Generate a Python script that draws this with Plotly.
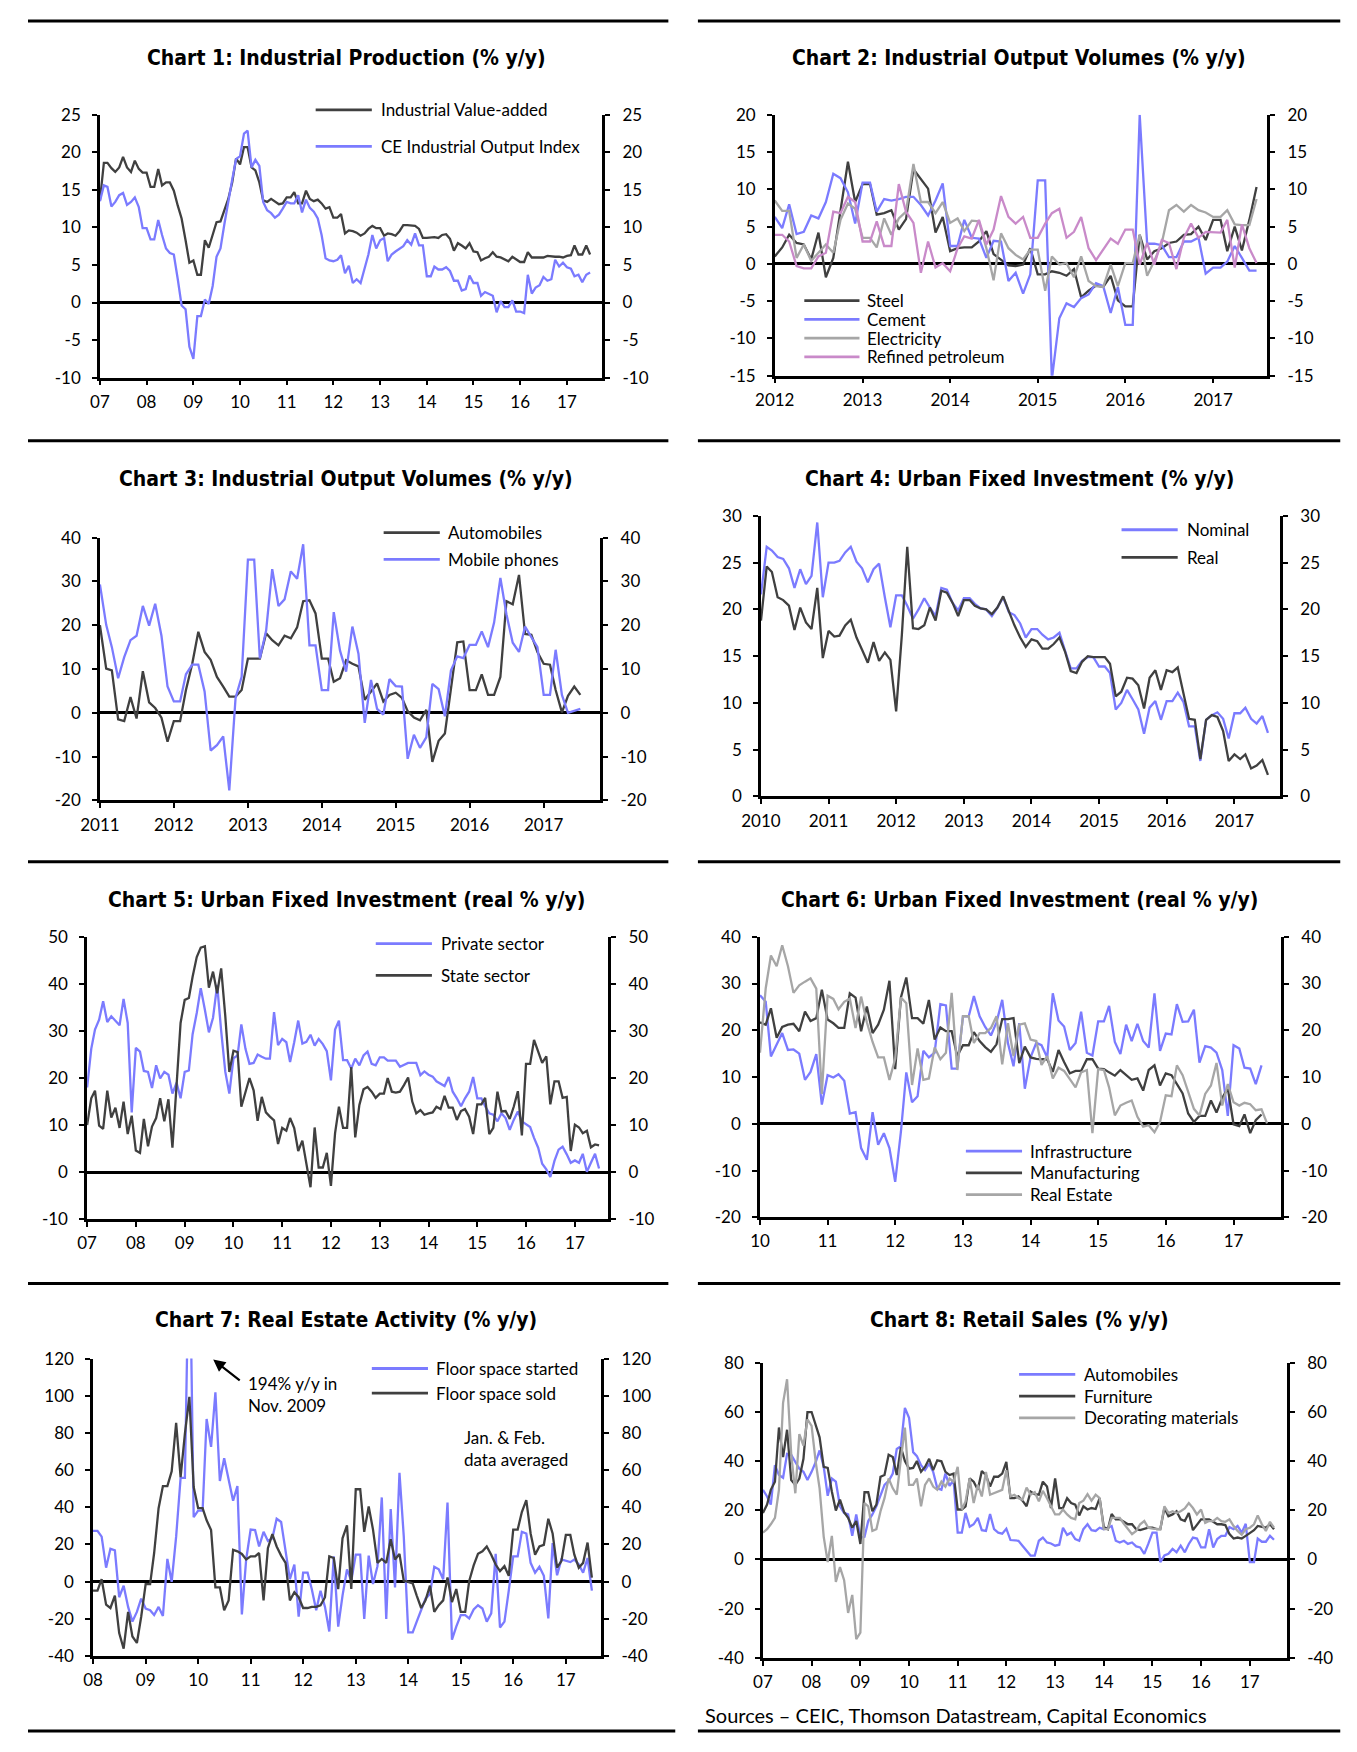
import pandas as pd
import plotly.graph_objects as go

# ---------------- DATA ----------------
# Chart 1: monthly from Jan 2007
c1_start = '2007-01-01'
c1_value_added = [
    13.6, 18.6, 18.6, 17.9, 17.4, 18.0, 19.4, 18.0, 17.4, 18.9, 17.8, 17.3,
    17.3, 15.4, 15.4, 17.8, 15.6, 16.0, 16.0, 14.9, 12.9, 11.2, 8.3, 5.3,
    5.6, 3.7, 3.7, 8.3, 7.3, 9.0, 10.7, 10.8, 12.3, 13.8, 16.0, 19.2,
    18.4, 20.7, 20.7, 18.0, 17.6, 16.0, 13.6, 13.4, 13.8, 13.4, 13.1, 13.2,
    14.0, 14.0, 14.7, 13.2, 13.2, 14.9, 13.8, 13.5, 13.7, 13.2, 12.5, 12.7,
    11.3, 11.3, 11.8, 9.2, 9.6, 9.5, 9.3, 8.9, 9.2, 9.8, 10.2, 9.9,
    9.9, 8.9, 9.2, 9.1, 8.9, 9.5, 10.3, 10.3, 10.2, 10.2, 9.8, 8.6,
    8.6, 8.7, 8.7, 8.6, 9.0, 9.1, 8.5, 6.9, 7.9, 7.6, 7.2, 7.9,
    6.8, 6.7, 5.6, 5.9, 6.1, 6.7, 6.1, 6.0, 5.7, 5.5, 6.1, 5.8,
    5.4, 5.4, 6.7, 6.0, 6.0, 6.1, 6.0, 6.2, 6.1, 6.1, 6.1, 6.0,
    6.2, 6.3, 7.6, 6.4, 6.4, 7.6, 6.4]
c1_ce_index = [
    13.5, 15.6, 15.4, 12.8, 13.4, 14.3, 14.6, 13.0, 13.4, 14.0, 12.7, 9.9,
    9.9, 8.4, 8.4, 11.0, 9.0, 7.2, 6.6, 6.4, 3.1, -0.4, -0.9, -5.9,
    -7.5, -1.8, -1.8, 0.4, -0.2, 2.2, 6.1, 7.2, 10.5, 13.6, 16.4, 19.1,
    19.5, 22.5, 22.9, 18.0, 19.0, 18.2, 13.4, 12.3, 11.9, 11.3, 11.7, 12.5,
    13.4, 13.2, 13.2, 14.3, 12.0, 13.7, 12.6, 12.1, 11.2, 9.0, 5.9, 5.6,
    5.5, 5.7, 6.3, 3.9, 4.9, 2.6, 3.1, 2.6, 4.6, 6.4, 9.0, 7.2,
    8.3, 8.6, 5.5, 6.4, 6.8, 7.2, 7.5, 8.3, 7.7, 9.2, 7.6, 7.6,
    3.5, 3.5, 4.8, 4.4, 4.4, 4.7, 4.2, 2.9, 2.9, 1.6, 1.8, 3.6,
    2.6, 2.6, 0.9, 1.4, 1.2, 0.9, -1.3, 0.2, -0.6, -0.6, 0.3, -1.2,
    -1.2, -1.4, 3.7, 1.2, 2.0, 2.3, 3.4, 2.9, 3.1, 5.7, 4.8, 5.3,
    4.7, 4.5, 3.5, 3.7, 2.7, 3.7, 4.0]

# Chart 2: monthly from Jan 2012
c2_start = '2012-01-01'
c2_steel = [
    1.0, 2.2, 3.9, 2.8, 2.6, 0.6, 4.2, -1.8, 0.8, 7.4, 13.7, 8.3,
    10.7, 10.7, 6.6, 6.8, 7.2, 4.6, 6.0, 12.7, 11.4, 10.1, 4.2, 6.3,
    1.7, 2.1, 2.2, 2.2, 3.0, 4.4, 1.3, 0.6, -0.2, -0.3, -0.1, 2.1,
    -1.4, -1.4, -1.0, -1.2, -1.6, -0.7, -4.5, -3.6, -2.9, -3.1, -1.6, -4.9,
    -5.7, -5.7, 3.9, 0.6, 1.7, 2.1, 2.8, 3.0, 3.9, 4.0, 5.0, 3.2,
    5.9, 5.9, 1.7, 5.0, 1.8, 5.9, 10.3]
c2_cement = [
    6.3, 4.8, 8.0, 4.0, 4.3, 6.5, 6.1, 8.3, 12.1, 11.5, 9.6, 5.4,
    10.9, 10.9, 7.0, 8.7, 8.5, 8.7, 9.0, 9.0, 7.9, 6.5, 8.5, 10.8,
    2.4, 2.4, 5.9, 3.5, 3.4, 0.8, 3.1, 3.0, -2.3, -1.2, -4.0, -1.4,
    11.2, 11.2, -15.5, -7.3, -5.3, -5.8, -4.6, -4.1, -2.6, -3.0, -6.6, -3.1,
    -8.2, -8.2, 20.0, 2.7, 2.7, 2.5, 0.9, 0.9, 3.0, 3.0, 3.5, -1.3,
    -0.5, -0.5, 0.3, 2.4, 0.8, -0.9, -0.9]
c2_electricity = [
    8.5, 7.1, 7.1, 0.8, 2.6, 0.4, 1.5, 2.6, 1.5, 5.9, 8.1, 7.4,
    3.5, 3.5, 2.2, 6.1, 3.9, 6.1, 7.0, 13.4, 8.3, 8.3, 6.8, 8.3,
    5.5, 6.1, 4.4, 5.8, 5.7, 2.1, -2.2, 4.1, 2.1, 1.2, 0.6, 1.9,
    1.9, -3.6, 1.0, -0.1, 0.1, -1.8, 1.0, -2.3, -3.0, -3.1, -0.1, -3.0,
    0.1, 0.1, 3.9, -1.6, 0.4, 2.8, 7.2, 7.9, 7.0, 7.9, 7.2, 6.9,
    6.3, 6.3, 7.2, 5.3, 5.2, 5.2, 8.7]
c2_petroleum = [
    3.9, 3.9, 3.0, -0.3, -0.6, -0.6, 1.0, 1.5, 7.0, 6.8, 9.0, 8.3,
    3.0, 3.0, 5.7, 2.4, 2.4, 10.7, 7.0, 5.5, -1.2, 3.0, -0.5, 0.1,
    -1.0, 2.1, 3.7, 3.4, 5.9, 2.6, 4.6, 9.1, 6.3, 5.4, 6.3, 3.5,
    3.5, 5.4, 6.8, 7.4, 3.5, 4.3, 6.3, 2.1, 0.5, 2.0, 3.4, 2.7,
    4.6, 4.6, -0.1, 2.8, -0.1, 3.2, 2.8, -0.7, 3.5, 5.4, 3.5, 4.3,
    4.2, 4.2, 5.9, -0.5, 5.3, 2.1, 0.1]

# Chart 3: monthly from Jan 2011
c3_start = '2011-01-01'
c3_automobiles = [
    20.0, 10.1, 9.7, -1.5, -1.9, 3.6, -1.3, 9.5, 2.4, 1.1, -1.1, -6.6,
    -1.9, -1.9, 5.2, 11.2, 18.5, 13.9, 12.1, 8.2, 6.0, 3.7, 3.7, 5.2,
    12.4, 12.4, 12.4, 18.2, 16.6, 15.4, 17.6, 17.0, 19.5, 25.5, 25.7, 22.7,
    12.4, 12.4, 7.1, 7.9, 12.0, 11.2, 10.6, 3.0, 4.9, 6.7, 2.6, 4.1,
    4.6, 3.4, 0.4, -1.1, -1.7, 0.7, -11.2, -6.4, -4.7, 6.0, 16.1, 16.3,
    5.2, 5.2, 8.8, 4.1, 4.1, 8.2, 25.5, 24.8, 31.5, 18.0, 17.8, 13.9,
    11.2, 11.0, 5.2, 0.1, 3.9, 6.0, 4.1]
c3_mobile_phones = [
    29.3, 20.1, 15.0, 7.9, 12.7, 16.6, 17.6, 24.4, 19.9, 24.9, 17.6, 6.0,
    2.6, 2.6, 8.8, 11.0, 11.0, 4.9, -8.6, -7.4, -5.4, -17.7, 3.4, 8.2,
    35.0, 35.0, 12.4, 18.8, 32.8, 24.4, 25.9, 32.3, 30.6, 38.5, 15.4, 15.4,
    5.2, 5.2, 23.0, 14.2, 9.4, 19.7, 13.5, -2.3, 7.5, 0.9, -0.4, 7.7,
    6.1, 6.0, -10.5, -5.0, -8.0, -5.6, 6.6, 5.4, -0.8, 9.7, 12.9, 12.5,
    15.5, 15.5, 18.6, 15.0, 20.6, 30.8, 22.5, 16.0, 13.9, 19.7, 17.3, 15.0,
    4.1, 4.1, 14.4, 4.1, 0.0, 0.4, 0.9]

# Chart 4: monthly from Jan 2010
c4_start = '2010-01-01'
c4_nominal = [
    21.6, 26.7, 26.3, 25.6, 25.4, 24.4, 22.3, 24.3, 22.7, 23.6, 29.3, 21.3,
    25.0, 25.0, 25.2, 26.1, 26.7, 25.1, 24.4, 22.9, 24.3, 24.9, 21.3, 18.1,
    21.5, 21.5, 20.4, 19.0, 20.0, 21.2, 20.2, 19.3, 22.3, 22.1, 20.7, 19.9,
    21.2, 21.2, 20.6, 20.1, 20.0, 19.3, 20.2, 21.3, 19.7, 19.4, 18.5, 17.0,
    17.9, 17.9, 17.3, 16.8, 17.0, 17.5, 15.6, 13.7, 13.7, 14.5, 14.9, 14.9,
    13.9, 13.9, 13.2, 9.3, 10.0, 11.4, 10.4, 9.3, 6.7, 9.5, 10.2, 8.2,
    10.2, 10.2, 11.1, 10.1, 7.5, 7.5, 3.8, 8.2, 8.7, 9.0, 8.3, 6.2,
    8.9, 8.9, 9.5, 8.3, 7.8, 8.6, 6.8]
c4_real = [
    18.8, 24.6, 24.0, 21.3, 21.0, 20.4, 17.8, 20.2, 18.6, 17.9, 22.3, 14.8,
    17.7, 17.1, 17.2, 18.3, 18.9, 17.0, 15.7, 14.3, 16.5, 14.5, 15.4, 14.6,
    9.1, 17.3, 26.7, 18.0, 17.9, 18.3, 20.2, 18.8, 22.0, 21.8, 20.7, 19.3,
    21.0, 21.0, 20.4, 20.1, 20.0, 19.5, 20.2, 21.4, 19.8, 18.3, 17.0, 16.0,
    16.8, 16.6, 15.8, 15.8, 16.3, 17.0, 15.5, 13.4, 13.2, 14.4, 15.0, 14.9,
    14.9, 14.9, 14.2, 10.7, 11.2, 12.7, 12.6, 11.9, 9.4, 12.7, 13.5, 11.4,
    13.5, 13.3, 13.8, 11.1, 8.3, 8.2, 4.0, 8.2, 8.7, 8.5, 7.0, 3.8,
    4.5, 4.0, 4.5, 3.0, 3.3, 3.9, 2.3]

# Chart 5: monthly from Jan 2007
c5_start = '2007-01-01'
c5_private = [
    18.0, 26.2, 30.3, 32.4, 36.3, 31.9, 33.1, 32.1, 31.2, 36.8, 31.7, 12.7,
    26.4, 25.6, 21.5, 21.3, 17.9, 22.7, 19.9, 21.3, 20.7, 16.7, 19.0, 15.7,
    21.3, 21.6, 29.3, 33.8, 39.1, 34.5, 29.7, 32.8, 39.8, 30.0, 21.3, 16.7,
    24.2, 24.8, 31.4, 26.2, 23.0, 23.2, 25.0, 24.5, 24.1, 24.1, 34.0, 27.0,
    28.3, 27.6, 23.4, 27.6, 32.2, 27.3, 27.7, 29.2, 26.9, 28.3, 27.2, 25.7,
    19.5, 30.3, 32.2, 23.8, 23.8, 22.0, 24.1, 22.7, 24.8, 25.6, 23.0, 22.7,
    24.4, 24.4, 23.7, 23.7, 23.7, 22.4, 22.8, 23.2, 23.2, 23.2, 20.6, 21.4,
    20.7, 20.3, 19.3, 18.8, 18.3, 20.2, 17.1, 15.7, 14.0, 15.7, 17.1, 20.2,
    15.7, 15.7, 14.0, 12.5, 12.2, 10.8, 12.5, 11.5, 9.0, 11.1, 12.9, 10.8,
    10.1, 9.6, 7.3, 5.2, 1.8, 0.6, -1.0, 2.4, 4.8, 5.4, 3.8, 2.0,
    2.5, 2.0, 3.9, 0.1, 2.0, 3.9, 0.8]
c5_state = [
    10.0, 15.7, 17.3, 9.9, 9.2, 17.3, 11.6, 13.7, 9.4, 15.0, 8.1, 12.0,
    4.6, 4.1, 11.3, 5.5, 9.7, 11.5, 15.7, 10.8, 15.5, 5.2, 18.5, 31.7,
    36.6, 37.0, 41.5, 45.7, 47.7, 48.0, 39.2, 42.6, 38.0, 43.3, 33.1, 21.3,
    25.8, 25.5, 13.9, 17.1, 20.0, 17.4, 10.9, 16.0, 12.7, 11.8, 11.0, 6.0,
    9.4, 8.8, 11.5, 9.4, 4.5, 6.7, 1.7, -3.2, 9.5, 1.0, 1.0, 4.1,
    -2.9, 8.3, 13.9, 9.4, 9.4, 22.3, 7.4, 14.3, 17.6, 18.1, 17.1, 15.8,
    16.7, 16.7, 20.0, 17.1, 16.9, 17.1, 18.5, 20.1, 15.0, 12.5, 13.2, 12.2,
    12.5, 12.7, 13.9, 13.4, 16.2, 13.7, 13.7, 11.1, 13.0, 13.4, 11.8, 8.1,
    14.4, 14.4, 15.8, 8.1, 9.4, 17.1, 12.9, 13.0, 11.3, 13.9, 17.2, 7.8,
    23.0, 23.0, 28.1, 25.5, 23.2, 24.6, 14.4, 19.3, 19.3, 15.8, 16.0, 4.5,
    10.1, 9.5, 8.3, 8.8, 5.3, 5.9, 5.7]

# Chart 6: monthly from Jan 2010
c6_start = '2010-01-01'
c6_infrastructure = [
    27.5, 26.1, 14.4, 17.0, 19.4, 15.8, 15.9, 15.0, 9.4, 11.1, 14.9, 4.1,
    10.4, 9.9, 10.6, 9.2, 2.2, 2.5, -5.2, -7.7, 2.5, -4.5, -2.0, -5.2,
    -12.4, -1.7, 11.0, 4.6, 5.9, 15.6, 14.2, 15.2, 25.6, 25.3, 11.8, 11.8,
    23.0, 23.0, 27.3, 23.0, 20.7, 18.9, 21.7, 26.5, 17.2, 12.3, 21.5, 7.5,
    14.2, 17.3, 16.8, 14.2, 27.9, 22.1, 20.8, 15.8, 17.3, 24.0, 15.2, 14.6,
    21.9, 21.9, 25.2, 17.5, 14.9, 21.2, 17.7, 21.4, 17.7, 16.3, 27.9, 15.6,
    19.3, 19.1, 25.6, 21.8, 21.9, 24.4, 13.1, 16.6, 16.3, 15.2, 11.5, 1.7,
    16.8, 16.1, 12.0, 11.8, 8.5, 12.5]
c6_manufacturing = [
    21.7, 21.2, 24.7, 18.4, 20.7, 21.2, 21.4, 19.8, 24.0, 22.0, 22.6, 28.7,
    22.3, 21.5, 20.5, 20.5, 27.9, 27.0, 19.8, 25.1, 19.4, 21.2, 24.4, 30.6,
    11.7, 27.0, 31.3, 22.6, 22.6, 21.4, 26.5, 18.0, 20.6, 19.8, 19.8, 14.5,
    16.8, 16.8, 19.6, 17.7, 16.4, 15.4, 17.0, 22.4, 22.4, 22.6, 13.0, 16.5,
    14.2, 13.9, 13.8, 13.8, 11.1, 15.8, 13.2, 10.8, 11.3, 11.3, 13.8, 13.8,
    11.8, 11.7, 11.0, 10.3, 11.5, 10.4, 9.4, 9.7, 7.1, 11.5, 12.5, 8.2,
    10.8, 10.4, 8.5, 6.5, 2.2, 0.4, 1.7, 1.7, 5.0, 2.4, 5.5, 7.6,
    -0.1, -0.5, 2.0, -2.0, 0.8, 2.0]
c6_real_estate = [
    15.2, 29.0, 36.0, 33.7, 38.2, 33.7, 28.0, 29.6, 30.4, 31.1, 28.9, 6.4,
    27.4, 26.7, 24.5, 26.1, 26.8, 20.5, 27.2, 21.7, 17.5, 14.2, 14.2, 9.4,
    13.9, 27.0, 25.8, 8.3, 16.1, 9.4, 9.7, 16.3, 13.8, 15.2, 28.0, 11.5,
    23.0, 23.0, 17.3, 19.4, 19.4, 20.5, 23.0, 12.7, 21.5, 14.5, 21.2, 21.5,
    18.0, 17.7, 12.6, 14.5, 9.7, 12.0, 11.3, 9.6, 7.8, 11.0, 11.5, -2.0,
    11.7, 11.5, 7.8, 1.8, 3.9, 4.5, 5.0, 1.5, -0.6, -0.3, -1.8, 0.4,
    6.1, 5.9, 12.5, 10.4, 6.8, 3.2, 1.8, 6.4, 8.2, 13.0, 3.9, 8.5,
    4.6, 3.9, 4.5, 4.2, 2.9, 3.1, 0.1]

# Chart 7: monthly from Jan 2008
c7_start = '2008-01-01'
c7_started = [
    27.3, 27.3, 24.2, 7.5, 17.7, 16.8, -8.4, -2.2, -13.6, -21.5, -16.3, -9.2,
    -14.5, -15.4, -18.0, -13.6, -18.5, 12.2, -0.1, 24.2, 55.8, 55.8, 194.0, 34.7,
    38.2, 38.2, 87.5, 72.5, 101.9, 54.1, 66.4, 55.8, 43.5, 51.4, -17.7, 11.9,
    28.0, 27.7, 18.9, 26.8, 21.9, 23.3, 33.8, 32.1, 15.4, 1.3, 9.2, -18.9,
    4.8, 4.8, -4.0, -15.4, -4.9, -13.6, -26.8, 13.6, -24.2, -7.5, 6.6, 0.4,
    14.5, 14.5, -20.1, 14.0, -1.3, 8.3, 45.3, -20.1, 39.1, -3.1, 58.5, 24.2,
    -27.3, -27.3, -21.5, -15.4, -9.2, -6.6, 8.0, 6.6, 1.3, 42.6, -31.2, -24.2,
    -18.0, -18.0, -19.8, -15.0, -12.7, -14.5, -21.5, -17.1, 14.9, -24.7, -21.5, -4.8,
    13.6, 13.6, 26.8, 25.9, 10.1, 4.8, 8.0, 3.1, -19.8, 20.7, 3.4, 11.9,
    11.0, 10.5, 11.9, 9.2, 4.8, 12.7, -4.8]
c7_sold = [
    -4.8, -4.8, 1.3, -12.4, -14.2, -7.5, -27.7, -36.1, -16.3, -29.5, -33.0, -18.9,
    -1.3, -1.3, 15.4, 39.5, 51.4, 51.4, 59.3, 85.4, 56.2, 79.6, 99.4, 50.9,
    39.5, 39.5, 33.0, 27.7, -3.1, -3.1, -15.4, -10.1, 17.1, 16.3, 14.9, 11.9,
    13.6, 13.6, 15.4, -10.1, 18.0, 25.6, 18.9, 14.0, 10.1, -10.1, -5.7, -8.4,
    -14.2, -14.2, -13.6, -13.6, -12.7, -8.4, 13.6, 12.7, -4.0, 23.3, 30.3, -4.0,
    49.7, 49.7, 26.8, 40.4, 28.0, 10.1, 12.2, 10.1, 22.8, 11.9, 14.9, 0.4,
    -0.1, -1.0, -7.5, -14.2, -10.1, -2.2, -16.3, -12.7, -10.1, 2.2, -11.0, -4.0,
    -16.3, -16.3, 0.4, 8.7, 15.0, 16.3, 18.9, 14.5, 9.2, 5.7, 8.3, 3.1,
    28.0, 28.0, 37.4, 43.9, 25.9, 14.5, 18.9, 19.8, 33.8, 25.9, 7.5, 11.0,
    25.1, 25.1, 14.5, 7.5, 10.1, 21.0, 2.2]

# Chart 8: monthly from Jan 2007
c8_start = '2007-01-01'
c8_automobiles = [
    28.3, 25.6, 22.3, 38.3, 34.3, 33.2, 42.9, 42.5, 39.6, 36.9, 35.6, 32.3,
    35.6, 39.6, 44.3, 37.6, 25.9, 32.9, 31.6, 21.6, 18.9, 18.3, 9.6, 18.3,
    8.9, 9.2, 15.6, 18.3, 21.6, 25.9, 30.3, 31.9, 34.9, 44.9, 46.0, 61.6,
    57.6, 43.6, 42.0, 38.3, 36.3, 38.9, 35.6, 28.9, 28.3, 34.9, 29.9, 32.3,
    10.9, 10.9, 18.9, 13.3, 14.3, 16.9, 11.9, 11.6, 18.5, 12.3, 10.9, 10.5,
    12.5, 7.9, 7.9, 7.6, 5.6, 3.6, 1.6, 1.6, 7.6, 8.9, 6.9, 6.5,
    5.6, 6.0, 12.9, 10.0, 10.9, 8.3, 7.6, 12.3, 14.3, 11.9, 11.6, 12.9,
    12.3, 12.9, 13.6, 7.6, 6.9, 7.6, 6.3, 6.9, 5.3, 4.9, 2.3, 6.3,
    10.9, 10.9, -1.1, 1.6, 2.3, 4.3, 2.9, 5.6, 2.9, 6.3, 8.9, 8.5,
    4.9, 4.9, 12.3, 4.9, 8.3, 9.6, 9.6, 13.2, 12.3, 13.6, 10.9, 14.5,
    -1.1, -1.1, 8.5, 7.2, 7.2, 9.6, 8.0]
c8_furniture = [
    18.9, 22.3, 28.3, 31.6, 53.6, 41.6, 52.7, 32.3, 30.3, 32.9, 40.9, 59.9,
    59.9, 54.3, 49.6, 37.6, 37.2, 27.6, 19.9, 24.3, 19.2, 16.9, 12.9, 15.6,
    6.3, 27.3, 27.3, 19.6, 22.3, 33.6, 34.3, 42.5, 41.6, 34.3, 45.6, 40.0,
    36.9, 37.2, 40.0, 35.6, 37.6, 40.9, 36.3, 40.3, 39.9, 35.6, 34.3, 34.9,
    20.3, 20.3, 21.6, 32.9, 31.6, 28.3, 35.9, 34.3, 29.6, 33.6, 33.6, 34.9,
    39.6, 24.9, 24.9, 25.6, 23.9, 21.6, 27.6, 26.5, 26.3, 31.6, 29.6, 20.9,
    32.9, 20.9, 20.9, 24.9, 22.9, 22.3, 17.9, 21.6, 20.3, 20.9, 20.5, 24.9,
    13.2, 12.3, 18.5, 16.3, 16.3, 15.3, 14.3, 14.3, 12.3, 11.9, 12.3, 12.9,
    12.9, 12.3, 12.3, 20.9, 17.6, 18.3, 19.6, 16.3, 15.6, 18.9, 11.9, 14.3,
    16.3, 16.3, 16.3, 15.3, 14.3, 14.3, 14.0, 10.3, 8.5, 8.9, 8.5, 9.6,
    10.7, 11.9, 13.6, 13.2, 12.9, 14.3, 12.3]
c8_decorating = [
    10.9, 12.3, 14.3, 16.9, 28.3, 63.6, 73.2, 42.9, 26.9, 50.9, 46.3, 56.9,
    54.3, 39.6, 28.9, 9.2, -1.1, 9.6, -9.1, -3.1, -8.4, -21.7, -14.4, -32.4,
    -29.7, 22.9, 21.6, 11.6, 12.3, 19.6, 24.9, 32.9, 28.9, 26.3, 40.9, 53.6,
    30.3, 30.3, 32.9, 21.6, 30.3, 32.9, 29.6, 28.3, 31.6, 29.6, 32.9, 31.6,
    37.6, 20.3, 23.6, 32.9, 22.9, 30.3, 25.6, 35.6, 26.3, 26.9, 27.6, 28.3,
    36.3, 25.6, 26.3, 24.9, 24.3, 29.2, 26.3, 27.3, 23.6, 27.9, 24.9, 21.6,
    18.3, 18.3, 20.3, 18.3, 16.9, 16.3, 22.9, 23.9, 26.5, 23.9, 26.3, 24.9,
    12.3, 12.3, 16.9, 16.9, 16.9, 14.5, 12.3, 10.3, 11.6, 14.3, 15.6, 12.9,
    12.5, 12.5, 12.3, 21.6, 18.9, 19.6, 18.9, 19.6, 20.7, 22.9, 20.9, 18.3,
    20.3, 14.9, 15.6, 15.6, 16.9, 15.6, 15.3, 16.3, 13.6, 11.6, 10.0, 12.3,
    12.9, 14.3, 17.9, 14.3, 11.6, 15.3, 12.9]

titles = [
    'Chart 1: Industrial Production (% y/y)',
    'Chart 2: Industrial Output Volumes (% y/y)',
    'Chart 3: Industrial Output Volumes (% y/y)',
    'Chart 4: Urban Fixed Investment (% y/y)',
    'Chart 5: Urban Fixed Investment (real % y/y)',
    'Chart 6: Urban Fixed Investment (real % y/y)',
    'Chart 7: Real Estate Activity (% y/y)',
    'Chart 8: Retail Sales (% y/y)',
]
source_text = 'Sources \u2013 CEIC, Thomson Datastream, Capital Economics'

# ---------------- STYLE / LAYOUT ----------------
PAGE_W, PAGE_H = 1357, 1752
OFF = 8                      # default body margin of the html page
W, H = PAGE_W - OFF, PAGE_H - 2 * OFF
BLUE = '#7b7bff'
DARK = '#404040'
LGRAY = '#a6a6a6'
PINK = '#c98ac9'
FONT = "Lato, 'Open Sans', sans-serif"
TFONT = "'Liberation Sans Narrow', 'DejaVu Sans Condensed', Lato, sans-serif"
FS = 17


def mdates(start, n):
    return pd.date_range(start, periods=n, freq='MS')


charts = [
    dict(box=(81, 105, 591, 371), yr=(-10, 25), step=5, xr=('2007-01-01', '2017-10-05'), fmt='%y', tc=(331, 47),
         series=[('Industrial Value-added', c1_start, c1_value_added, DARK),
                 ('CE Industrial Output Index', c1_start, c1_ce_index, BLUE)],
         leg=(300, 357, 364, [100, 137])),
    dict(box=(766, 105, 1266, 369), yr=(-15, 20), step=5, xr=('2012-01-01', '2017-08-15'), fmt='%Y', tc=(1014, 47),
         series=[('Steel', c2_start, c2_steel, DARK), ('Cement', c2_start, c2_cement, BLUE),
                 ('Electricity', c2_start, c2_electricity, LGRAY),
                 ('Refined petroleum', c2_start, c2_petroleum, PINK)],
         leg=(796, 852, 858, [293, 312, 331, 350])),
    dict(box=(81, 533, 589, 799), yr=(-20, 40), step=10, xr=('2011-01-01', '2017-10-08'), fmt='%Y', tc=(331, 474),
         series=[('Automobiles', c3_start, c3_automobiles, DARK),
                 ('Mobile phones', c3_start, c3_mobile_phones, BLUE)],
         leg=(369, 426, 432, [528, 555])),
    dict(box=(752, 511, 1279, 795), yr=(0, 30), step=5, xr=('2010-01-01', '2017-09-05'), fmt='%Y', tc=(1014, 474),
         series=[('Nominal', c4_start, c4_nominal, BLUE), ('Real', c4_start, c4_real, DARK)],
         leg=(1118, 1175, 1182, [525, 553])),
    dict(box=(68, 937, 597, 1223), yr=(-10, 50), step=10, xr=('2007-01-01', '2017-09-08'), fmt='%y', tc=(331, 900),
         series=[('Private sector', c5_start, c5_private, BLUE), ('State sector', c5_start, c5_state, DARK)],
         leg=(361, 418, 425, [944, 976])),
    dict(box=(751, 937, 1280, 1221), yr=(-20, 40), step=10, xr=('2010-01-01', '2017-09-15'), fmt='%y', tc=(1014, 900),
         series=[('Infrastructure', c6_start, c6_infrastructure, BLUE),
                 ('Manufacturing', c6_start, c6_manufacturing, DARK),
                 ('Real Estate', c6_start, c6_real_estate, LGRAY)],
         leg=(960, 1017, 1023, [1154, 1176, 1198])),
    dict(box=(74, 1364, 590, 1665), yr=(-40, 120), step=20, xr=('2008-01-01', '2017-09-05'), fmt='%y', tc=(331, 1325),
         series=[('Floor space started', c7_start, c7_started, BLUE),
                 ('Floor space sold', c7_start, c7_sold, DARK)],
         leg=(357, 414, 420, [1374, 1399])),
    dict(box=(754, 1368, 1286, 1667), yr=(-40, 80), step=20, xr=('2007-01-01', '2017-10-07'), fmt='%y', tc=(1014, 1325),
         series=[('Automobiles', c8_start, c8_automobiles, BLUE),
                 ('Furniture', c8_start, c8_furniture, DARK),
                 ('Decorating materials', c8_start, c8_decorating, LGRAY)],
         leg=(1014, 1071, 1078, [1380, 1402, 1424])),
]

fig = go.Figure()
layout = {}
shapes = []
annotations = []


def px_x(v):
    return (v - OFF) / W


def px_y(v):
    return 1 - (v - OFF) / H


tickfont = dict(family=FONT, size=FS, color='black')

for i, c in enumerate(charts, start=1):
    x0, top, x1, bottom = c['box']
    xname = 'xaxis' if i == 1 else f'xaxis{i}'
    xref = 'x' if i == 1 else f'x{i}'
    li, ri = 2 * i - 1, 2 * i
    lname = 'yaxis' if li == 1 else f'yaxis{li}'
    lref = 'y' if li == 1 else f'y{li}'
    rname = f'yaxis{ri}'
    rref = f'y{ri}'
    lo, hi = c['yr']
    tv = list(range(lo, hi + 1, c['step']))
    tt = [str(v) for v in tv]

    layout[xname] = dict(domain=[px_x(x0), px_x(x1)], anchor=lref, type='date', range=list(c['xr']),
                         showline=True, linecolor='black', linewidth=2.5, ticks='outside', ticklen=5,
                         tickwidth=1.5, tickcolor='black', dtick='M12', tick0='2000-01-01',
                         tickformat=c['fmt'], tickfont=tickfont, showgrid=False, zeroline=False,
                         ticklabelstandoff=2)
    layout[lname] = dict(domain=[px_y(bottom), px_y(top)], anchor=xref, range=[lo, hi], tickvals=tv,
                         ticktext=tt, showline=True, linecolor='black', linewidth=2.5, ticks='outside',
                         ticklen=5, tickwidth=1.5, tickcolor='black', showgrid=False, zeroline=True,
                         zerolinecolor='black', zerolinewidth=2.5, tickfont=tickfont, ticklabelstandoff=8)
    layout[rname] = dict(overlaying=lref, side='right', anchor=xref, range=[lo, hi], tickvals=tv,
                         ticktext=tt, showline=True, linecolor='black', linewidth=2.5, ticks='outside',
                         ticklen=5, tickwidth=1.5, tickcolor='black', showgrid=False, zeroline=False,
                         tickfont=tickfont, ticklabelstandoff=9)

    for name, start, vals, col in c['series']:
        fig.add_trace(go.Scatter(x=mdates(start, len(vals)), y=vals, mode='lines', name=name,
                                 line=dict(color=col, width=2.3), xaxis=xref, yaxis=lref,
                                 showlegend=False))
    # keep the right-hand axis on the same subplot
    fig.add_trace(go.Scatter(x=[c['xr'][0]], y=[None], mode='lines', xaxis=xref, yaxis=rref,
                             showlegend=False, hoverinfo='skip'))

    # legend drawn as line samples + text
    lx1, lx2, ltx, lys = c['leg']
    for (name, start, vals, col), ly in zip(c['series'], lys):
        shapes.append(dict(type='line', xref='paper', yref='paper', x0=px_x(lx1), x1=px_x(lx2),
                           y0=px_y(ly), y1=px_y(ly), line=dict(color=col, width=2.8)))
        annotations.append(dict(text=name, xref='paper', yref='paper', x=px_x(ltx), y=px_y(ly),
                                xanchor='left', yanchor='middle', showarrow=False,
                                font=dict(family=FONT, size=FS, color='black')))

    # title
    annotations.append(dict(text=f'<b>{titles[i - 1]}</b>', xref='paper', yref='paper',
                            x=px_x(c['tc'][0]), y=px_y(c['tc'][1]), xanchor='center', yanchor='middle',
                            showarrow=False, font=dict(family=TFONT, size=21, color='black')))

# horizontal rules
for y in [10, 435, 861, 1288]:
    shapes.append(dict(type='line', xref='paper', yref='paper', x0=px_x(8), x1=px_x(658),
                       y0=px_y(y), y1=px_y(y), line=dict(color='black', width=3)))
    shapes.append(dict(type='line', xref='paper', yref='paper', x0=px_x(688), x1=px_x(1340),
                       y0=px_y(y), y1=px_y(y), line=dict(color='black', width=3)))
shapes.append(dict(type='line', xref='paper', yref='paper', x0=px_x(8), x1=px_x(665),
                   y0=px_y(1741), y1=px_y(1741), line=dict(color='black', width=3)))
shapes.append(dict(type='line', xref='paper', yref='paper', x0=px_x(688), x1=px_x(1340),
                   y0=px_y(1741), y1=px_y(1741), line=dict(color='black', width=3)))

# chart 7 notes
annotations.append(dict(text='194% y/y in<br>Nov. 2009', xref='paper', yref='paper', x=px_x(229),
                        y=px_y(1400), xanchor='left', yanchor='middle', align='left', showarrow=False,
                        font=dict(family=FONT, size=FS, color='black')))
annotations.append(dict(text='', xref='paper', yref='paper', x=px_x(196), y=px_y(1365),
                        ax=28, ay=22, showarrow=True, arrowhead=2, arrowsize=1.1, arrowwidth=2.2,
                        arrowcolor='black'))
annotations.append(dict(text='Jan. & Feb.<br>data averaged', xref='paper', yref='paper', x=px_x(449),
                        y=px_y(1455), xanchor='left', yanchor='middle', align='left', showarrow=False,
                        font=dict(family=FONT, size=FS, color='black')))
# sources
annotations.append(dict(text=source_text, xref='paper', yref='paper', x=px_x(693), y=px_y(1725),
                        xanchor='left', yanchor='middle', showarrow=False,
                        font=dict(family=FONT, size=20, color='black')))

fig.update_layout(width=W, height=H, margin=dict(l=0, r=0, t=0, b=0), paper_bgcolor='white',
                  plot_bgcolor='white', showlegend=False, shapes=shapes, annotations=annotations,
                  **layout)

fig.write_html('out.html')
